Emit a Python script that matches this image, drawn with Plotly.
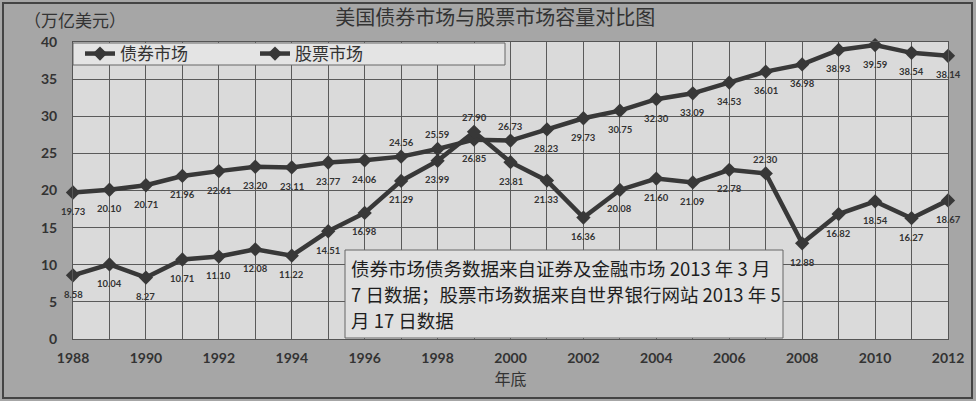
import plotly.graph_objects as go

years = list(range(1988, 2013))
bond_values = [19.73, 20.10, 20.71, 21.96, 22.61, 23.20, 23.11, 23.77, 24.06, 24.56,
               25.59, 26.85, 26.73, 28.23, 29.73, 30.75, 32.30, 33.09, 34.53, 36.01,
               36.98, 38.93, 39.59, 38.54, 38.14]
stock_values = [8.58, 10.04, 8.27, 10.71, 11.10, 12.08, 11.22, 14.51, 16.98, 21.29,
                23.99, 27.90, 23.81, 21.33, 16.36, 20.08, 21.60, 21.09, 22.78, 22.30,
                12.88, 16.82, 18.54, 16.27, 18.67]
# label placement: 1 = above the point, -1 = below
bond_label_side = [-1] * 25
for i in (9, 10, 12):
    bond_label_side[i] = 1
stock_label_side = [-1] * 25
for i in (11, 19):
    stock_label_side[i] = 1

series_names = ["债券市场", "股票市场"]
x_ticks = list(range(1988, 2013, 2))
y_ticks = list(range(0, 45, 5))
title_text = "美国债券市场与股票市场容量对比图"
unit_text = "（万亿美元）"
x_title = "年底"
note_lines = ["债券市场债务数据来自证券及金融市场 2013 年 3 月",
              "7 日数据；股票市场数据来自世界银行网站 2013 年 5",
              "月 17 日数据"]

LINE = "#383838"
TXT = "#333333"
CJK = "Noto Sans CJK SC"
NUM = "Lato"

W, H = 976, 401
L, R, T, B = 73, 28, 42, 62
pw, ph = W - L - R, H - T - B


def px(x):
    return (x - L) / pw


def py(y):
    return (H - B - y) / ph


fig = go.Figure()
for name, vals in ((series_names[0], bond_values), (series_names[1], stock_values)):
    fig.add_trace(go.Scatter(
        x=years, y=vals, name=name, mode="lines+markers",
        line=dict(color=LINE, width=4.5),
        marker=dict(symbol="diamond", size=11, color=LINE),
        cliponaxis=False,
    ))

annotations = []
for vals, sides in ((bond_values, bond_label_side), (stock_values, stock_label_side)):
    for yr, v, s in zip(years, vals, sides):
        annotations.append(dict(x=yr, y=v, xref="x", yref="y", text=f"{v:.2f}", showarrow=False,
                                yshift=14 if s > 0 else -19,
                                font=dict(family=NUM, size=9.5, color=TXT, weight="bold")))

shapes = [
    dict(type="rect", xref="paper", yref="paper", x0=px(3), x1=px(972), y0=py(398), y1=py(3),
         line=dict(color="#444444", width=2), fillcolor="rgba(0,0,0,0)", layer="above"),
    dict(type="rect", xref="paper", yref="paper", x0=0, x1=px(505), y0=py(65), y1=py(43),
         line=dict(color="#666666", width=1), fillcolor="#e4e4e4", layer="above"),
    dict(type="rect", xref="paper", yref="paper", x0=px(345), x1=px(783), y0=py(338), y1=py(250),
         line=dict(color="#666666", width=1), fillcolor="#e0e0e0", layer="above"),
]

annotations.append(dict(text=unit_text, xref="paper", yref="paper", x=px(22), y=py(20),
                        xanchor="left", yanchor="middle", showarrow=False,
                        font=dict(family=CJK, size=17, color=TXT)))
for i, line in enumerate(note_lines):
    annotations.append(dict(text=line, xref="paper", yref="paper", x=px(349), y=py(268 + 26 * i),
                            xanchor="left", yanchor="middle", showarrow=False,
                            font=dict(family=CJK, size=18.5, color="#1e1e1e")))

fig.update_layout(
    width=W, height=H,
    margin=dict(l=L, r=R, t=T, b=B),
    paper_bgcolor="#a6a6a6",
    plot_bgcolor="#dadada",
    title=dict(text=title_text, x=px(517), xanchor="center", y=1 - 18 / H, yanchor="middle",
               font=dict(family=CJK, size=20, color=TXT)),
    showlegend=True,
    legend=dict(orientation="h", x=px(80), y=py(54), xanchor="left", yanchor="middle",
                bgcolor="rgba(0,0,0,0)", font=dict(family=CJK, size=17, color=TXT),
                entrywidth=130, itemwidth=30),
    xaxis=dict(range=[1988, 2012], tickvals=x_ticks, ticktext=[str(v) for v in x_ticks],
               showgrid=True, gridcolor="#5a5a5a", gridwidth=1,
               tickmode="array", showline=True, linecolor="#555555", mirror=True,
               tickfont=dict(family=NUM, size=14, color=TXT, weight="bold"),
               ticks="", ticklabelstandoff=6,
               title=dict(text=x_title, font=dict(family=CJK, size=16, color=TXT), standoff=6),
               zeroline=False),
    yaxis=dict(range=[0, 40], tickvals=y_ticks, showgrid=True, gridcolor="#5a5a5a", gridwidth=1,
               showline=True, linecolor="#555555", mirror=True, zeroline=False,
               tickfont=dict(family=NUM, size=14, color=TXT, weight="bold"),
               ticks="", ticklabelstandoff=12),
    shapes=shapes,
    annotations=annotations,
)
fig.update_xaxes(minor=dict(tickvals=years, showgrid=True, gridcolor="#5a5a5a", gridwidth=1))

fig.write_html("out.html", config={"displayModeBar": False},
               post_script="document.body.style.margin='0';document.body.style.padding='0';")
